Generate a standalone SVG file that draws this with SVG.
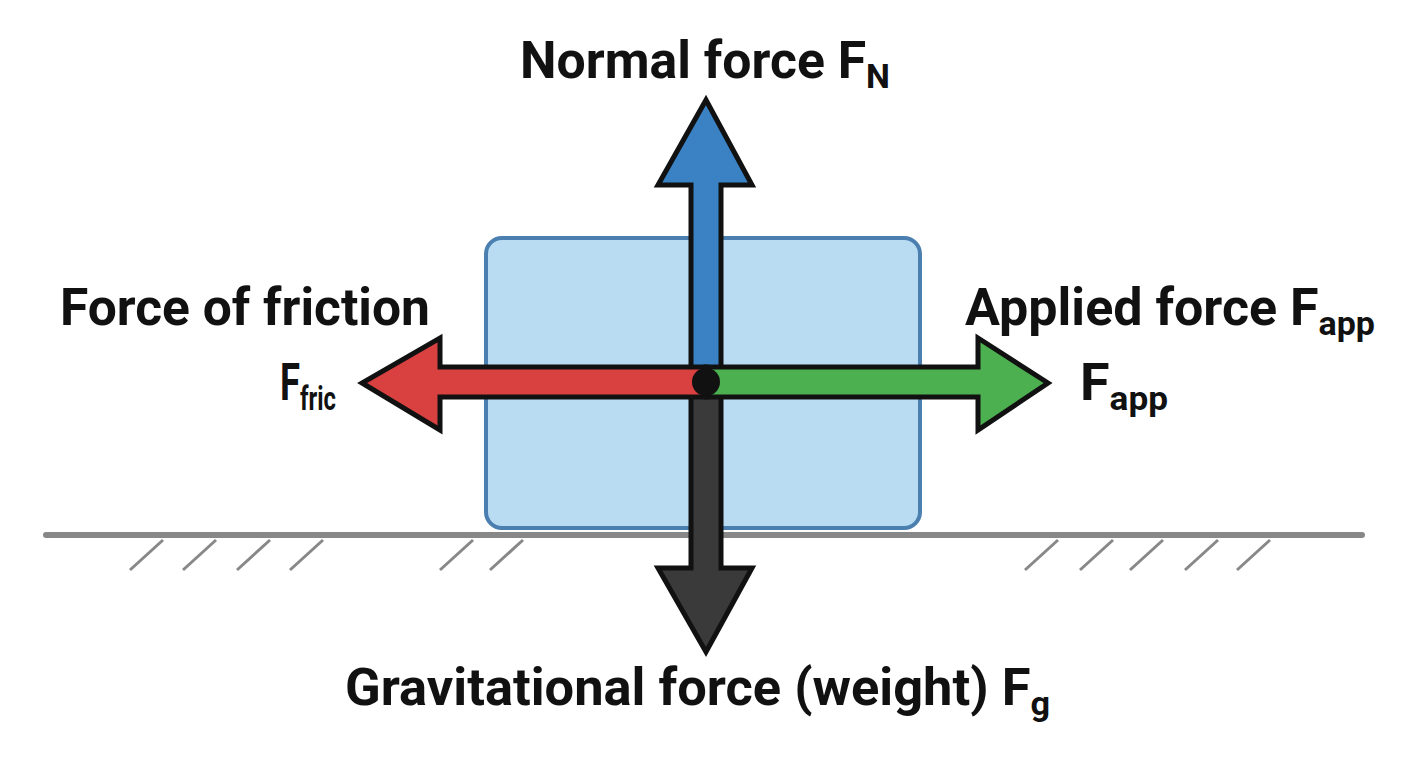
<svg xmlns="http://www.w3.org/2000/svg" width="1408" height="768" viewBox="0 0 1408 768">
<style>
.t{font-family:Roboto,"Liberation Sans",sans-serif;font-weight:700;font-size:52px;fill:#111}
.s{font-size:34px}
.ar{stroke:#111;stroke-width:5;stroke-linejoin:miter}
.h{stroke:#888;stroke-width:3}
</style>
<rect width="1408" height="768" fill="#fff"/>
<g id="ground">
<line x1="46" y1="535" x2="1362" y2="535" stroke="#888" stroke-width="6" stroke-linecap="round"/>
<g class="h">
<line x1="130" y1="570" x2="163" y2="540"/><line x1="183" y1="570" x2="216" y2="540"/><line x1="237" y1="570" x2="270" y2="540"/><line x1="290" y1="570" x2="323" y2="540"/>
<line x1="440" y1="570" x2="473" y2="540"/><line x1="490" y1="570" x2="523" y2="540"/>
<line x1="1025" y1="570" x2="1058" y2="540"/><line x1="1080" y1="570" x2="1113" y2="540"/><line x1="1130" y1="570" x2="1163" y2="540"/><line x1="1185" y1="570" x2="1218" y2="540"/><line x1="1237" y1="570" x2="1270" y2="540"/>
</g>
</g>
<g id="block"><rect x="486" y="238" width="434" height="290" rx="16" fill="#b9dcf2" stroke="#4a7fb0" stroke-width="4"/></g>
<g id="connectors">
<polygon class="ar" fill="#3a82c4" points="691,382 691,185 658,185 706,100 752,185 721,185 721,382"/>
<polygon class="ar" fill="#3a3a3a" points="691,382 691,568 658,568 706,652 752,568 721,568 721,382"/>
<polygon class="ar" fill="#d94040" points="706,367 440,367 440,338 362,383 440,430 440,397 706,397"/>
<polygon class="ar" fill="#4caf50" points="706,367 978,367 978,338 1048,383 978,430 978,397 706,397"/>
<circle cx="706" cy="382" r="14" fill="#111"/>
</g>
<g id="labels">
<text class="t" x="520" y="78" textLength="370" lengthAdjust="spacingAndGlyphs">Normal force F<tspan class="s" dy="10">N</tspan></text>
<text class="t" x="60" y="325" textLength="370" lengthAdjust="spacingAndGlyphs">Force of friction</text>
<text class="t" x="280" y="400" textLength="56" lengthAdjust="spacingAndGlyphs">F<tspan class="s" dy="10">fric</tspan></text>
<text class="t" x="965" y="325" textLength="410" lengthAdjust="spacingAndGlyphs">Applied force F<tspan class="s" dy="10">app</tspan></text>
<text class="t" x="1080" y="400" textLength="88" lengthAdjust="spacingAndGlyphs">F<tspan class="s" dy="10">app</tspan></text>
<text class="t" x="345" y="705" textLength="705" lengthAdjust="spacingAndGlyphs">Gravitational force (weight) F<tspan class="s" dy="10">g</tspan></text>
</g>
</svg>
